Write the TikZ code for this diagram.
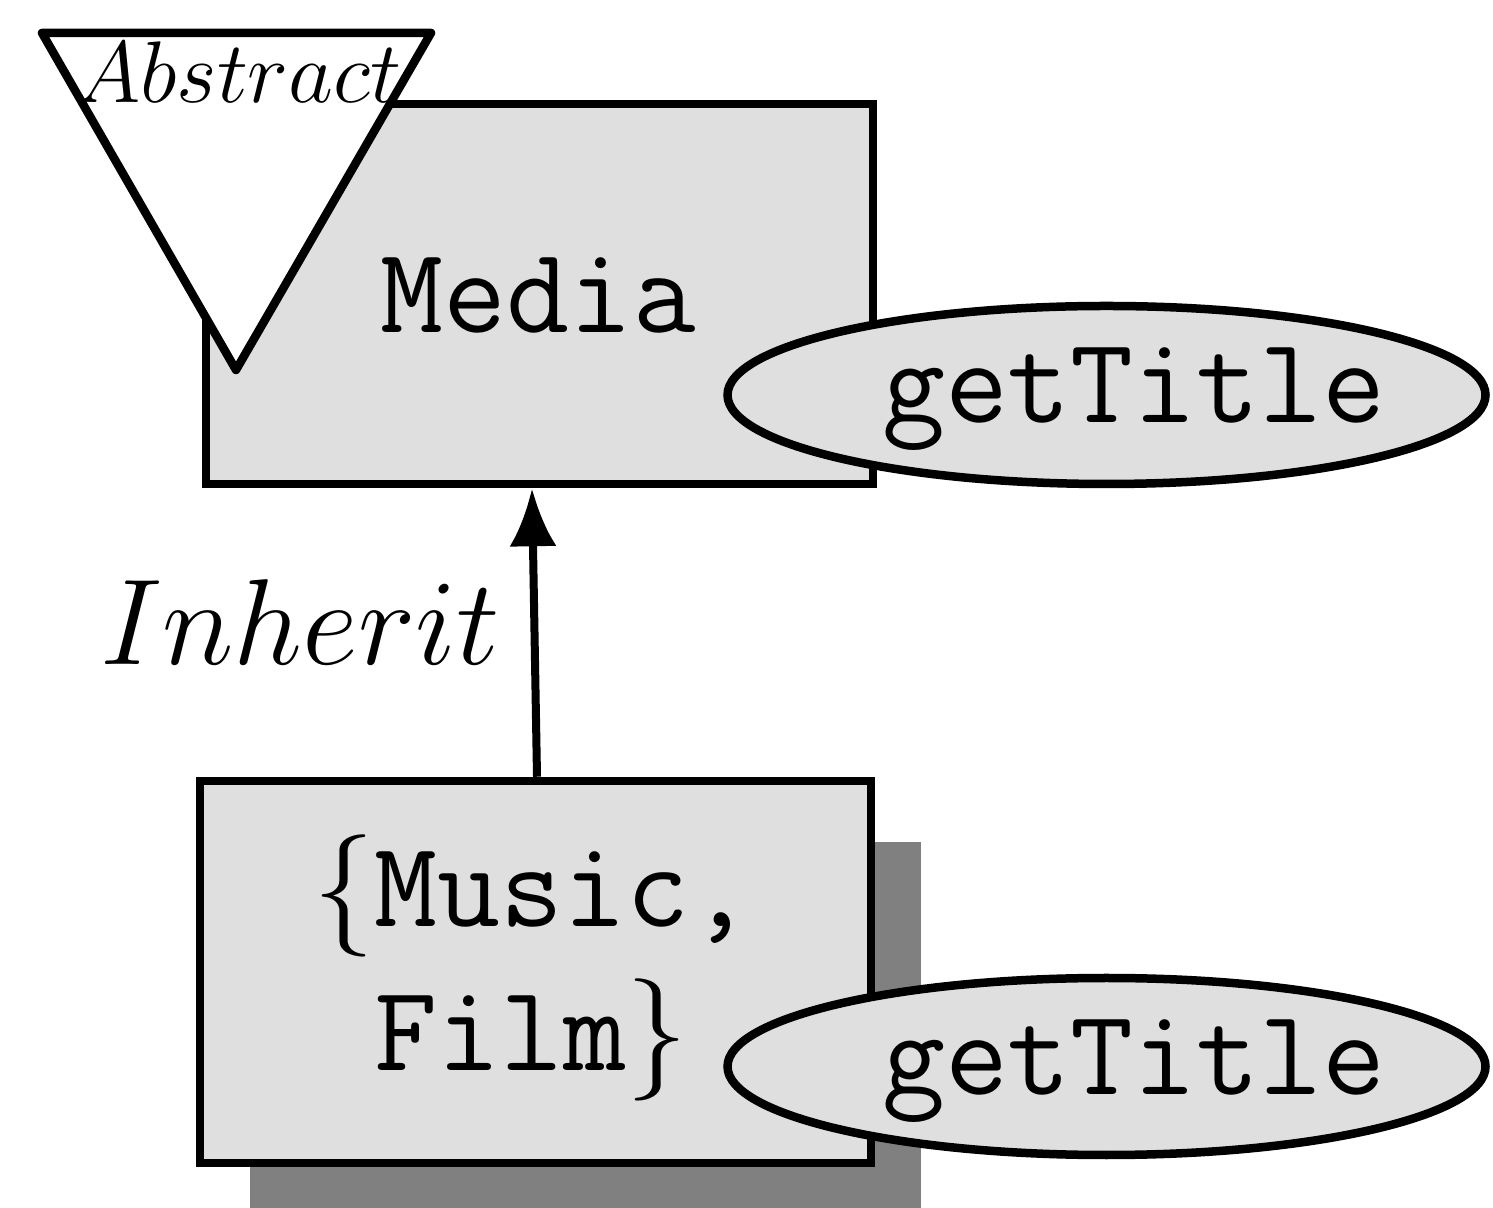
\RequirePackage{fix-cm}
\documentclass[tikz,border=0pt]{standalone}
\usetikzlibrary{arrows.meta,shapes.geometric}
\definecolor{boxgray}{gray}{0.875}
\definecolor{shadowgray}{gray}{0.5}
\newcommand{\bigtt}{\fontencoding{OT1}\fontfamily{cmtt}\fontsize{34.8}{42.5}\selectfont}
\tikzset{
  thing/.style={draw=black, line width=0.085cm, fill=boxgray, line join=miter},
  classbox/.style={thing, rectangle, inner sep=0pt},
  methodoval/.style={thing, ellipse, inner sep=0pt},
  tagtri/.style={draw=black, line width=0.085cm, fill=white, line join=round},
  ttlabel/.style={anchor=base, inner sep=0pt, font=\bigtt},
  inherits/.style={line width=0.08cm, -{Latex[length=0.58cm,width=0.47cm]}},
}
\begin{document}
\begin{tikzpicture}
\useasboundingbox (0,0) rectangle (14.93,12.07);
\clip (0,0) rectangle (14.93,12.07);

% superclass
\node[classbox, minimum width=6.67cm, minimum height=3.80cm] (media) at (5.395,9.13) {};
\node[ttlabel] (medialabel) at (5.38,8.74) {Media};
\draw[tagtri] (0.42,11.74) -- (4.31,11.74) -- (2.36,8.37) -- cycle;
\node[anchor=base, inner sep=0pt, font=\fontsize{24.88}{30}\selectfont] (abstract) at (2.39,11.04) {$Abstract$};
\node[methodoval, minimum width=7.58cm, minimum height=1.78cm] (mtop) at (11.065,8.12) {};
\node[ttlabel] (mtoplabel) at (11.34,7.84) {getTitle};

% subclasses
\fill[shadowgray] (2.50,3.65) rectangle (9.21,-0.40);
\node[classbox, minimum width=6.71cm, minimum height=3.82cm] (sub) at (5.355,2.35) {};
\node[ttlabel] (music) at (5.33,2.80) {$\{$Music,};
\node[ttlabel] (film) at (5.31,1.36) {Film$\}$};
\node[methodoval, minimum width=7.58cm, minimum height=1.77cm] (mbot) at (11.065,1.405) {};
\node[ttlabel] (mbotlabel) at (11.34,1.125) {getTitle};

% inheritance link
\draw[inherits] ([xshift=0.15mm]sub.north) -- ([xshift=-0.75mm]media.south);
\node[anchor=base, inner sep=0pt, font=\fontsize{34.8}{42}\selectfont] (inherit) at (3.00,5.42) {$Inherit$};
\end{tikzpicture}
\end{document}
